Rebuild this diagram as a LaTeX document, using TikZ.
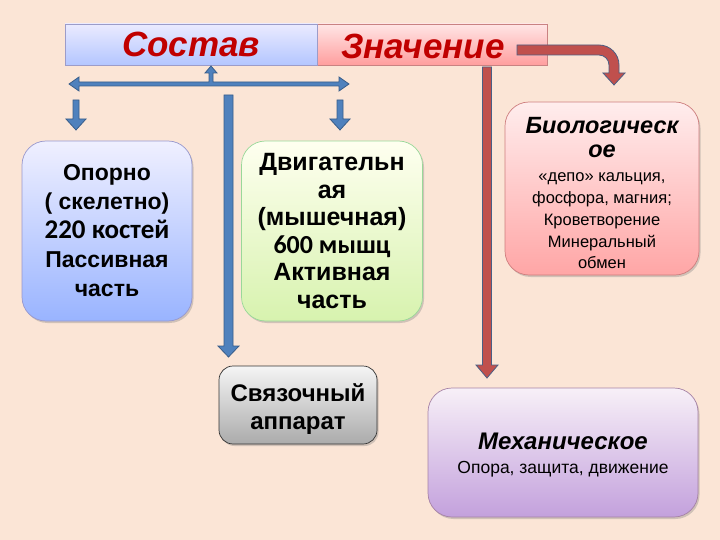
\documentclass[tikz,border=0pt]{standalone}
\usepackage{fontspec}
\setmainfont{Liberation Sans}
\newfontfamily\calibri{Carlito}
\usetikzlibrary{shadows}
\definecolor{bg}{HTML}{FBE5D6}
\definecolor{redtxt}{HTML}{C00000}
\definecolor{ablue}{HTML}{4F81BD}
\definecolor{ablueD}{HTML}{385D8A}
\definecolor{ared}{HTML}{C0504D}
\definecolor{aredD}{HTML}{4A5F85}
\newcommand\bt{\fontsize{23.5}{27}\selectfont\bfseries\itshape}
\newcommand\sm{\fontsize{16.5}{21.8}\selectfont}
\begin{document}
\begin{tikzpicture}[x=1pt,y=-1pt,
  shd/.style={drop shadow={opacity=0.35,shadow xshift=1.5pt,shadow yshift=-2pt}},
  box/.style={draw, rounded corners=24pt, align=center, inner sep=0pt, line width=0.7pt, shd},
  txt/.style={align=center, inner sep=0pt},
  head/.style={draw, minimum height=41pt, inner sep=0pt, line width=0.6pt,
    font=\fontsize{35}{40}\selectfont\bfseries\itshape, text=redtxt},
  big/.style={font=\fontsize{23}{29}\selectfont\bfseries},
  barrow/.style={fill=ablue, draw=ablueD, line width=0.8pt},
  rarrow/.style={fill=ared, draw=aredD, line width=0.8pt}]
\fill[bg] (0,0) rectangle (720,540);
\useasboundingbox (0,0) rectangle (720,540);

% header boxes
\node[head, minimum width=250pt, top color=red!10!white, bottom color=red!38!white, draw=red!40!gray!70,
  drop shadow={opacity=0.5,shadow xshift=0pt,shadow yshift=-1.5pt}] (znach) at (422,44.5) {};
\node[font=\fontsize{35}{40}\selectfont\bfseries\itshape, text=redtxt, inner sep=0pt] (znacht) at (423,46) {Значение};
\node[head, minimum width=252pt, top color=blue!8!white, bottom color=blue!25!cyan!12!white!80!blue, draw=blue!30!gray!60] (sostav) at (191,44.5) {Состав};

% blue arrows
\filldraw[barrow] (69,84) -- (79,77) -- (79,82) -- (209,82) -- (209,73) -- (205,73) -- (211,66)
  -- (217,73) -- (213,73) -- (213,82) -- (339,82) -- (339,77) -- (349,84) -- (339,91) -- (339,86)
  -- (79,86) -- (79,91) -- cycle;
\filldraw[barrow] (73,100) -- (79,100) -- (79,119) -- (86,119) -- (76,130) -- (66,119) -- (73,119) -- cycle;
\filldraw[barrow] (337,100) -- (343,100) -- (343,119) -- (350,119) -- (340,130) -- (330,119) -- (337,119) -- cycle;
\filldraw[barrow] (224,95) -- (233,95) -- (233,346) -- (239,346) -- (228.5,357) -- (218,346) -- (224,346) -- cycle;

% red arrows
\filldraw[rarrow] (482.5,67) -- (491.5,67) -- (491.5,365) -- (498,365) -- (487,378) -- (476,365) -- (482.5,365) -- cycle;
\filldraw[rarrow] (517,45) -- (599,45) arc(-90:0:20) -- (619,73) -- (625,73) -- (614,85) -- (603,73)
  -- (609,73) -- (609,65) arc(0:-90:10) -- (517,55) -- cycle;

% content boxes
\node[box, big, minimum width=170pt, minimum height=180pt, top color=blue!6!white, bottom color=blue!30!cyan!20!white!75!blue,
  draw=blue!35!gray!60] (opor) at (107,231)
  {Опорно\\( скелетно)\\{\calibri\fontsize{27}{29}\selectfont 220 костей}\\Пассивная\\часть};
\node[box, font=\fontsize{25}{27.5}\selectfont\bfseries, minimum width=181pt, minimum height=180pt,
  top color=green!4!yellow!6!white, bottom color=green!40!yellow!28!white!95!black, draw=green!45!gray!55] (dvig) at (332,231)
  {Двигательн\\ая\\(мышечная)\\{\calibri\fontsize{26}{27.5}\selectfont 600 мышц}\\Активная\\часть};

\node[box, minimum width=194pt, minimum height=173pt, top color=red!7!white, bottom color=red!35!white,
  draw=red!45!gray!70] (bio) at (602,188.5) {};
\node[txt, font=\sm] (biot) at (602,193)
  {{\bt Биологическ}\\[3pt]{\bt ое}\\[2pt]«депо» кальция,\\фосфора, магния;\\Кроветворение\\Минеральный\\обмен};

\node[box, rounded corners=14pt, minimum width=158pt, minimum height=78pt,
  top color=white!96!black, bottom color=black!33, draw=black!80] (svyaz) at (298,405) {};
\node[txt, font=\fontsize{24}{28}\selectfont\bfseries] (svyazt) at (298,409) {Связочный\\аппарат};

\node[box, minimum width=270pt, minimum height=129pt, top color=violet!6!white, bottom color=violet!30!white!90!blue,
  draw=violet!40!gray!70] (mech) at (563,452.5) {};
\node[txt, font=\fontsize{17.5}{24}\selectfont] (mecht) at (563,455)
  {{\fontsize{24}{26}\selectfont\bfseries\itshape Механическое}\\Опора, защита, движение};
\end{tikzpicture}
\end{document}
